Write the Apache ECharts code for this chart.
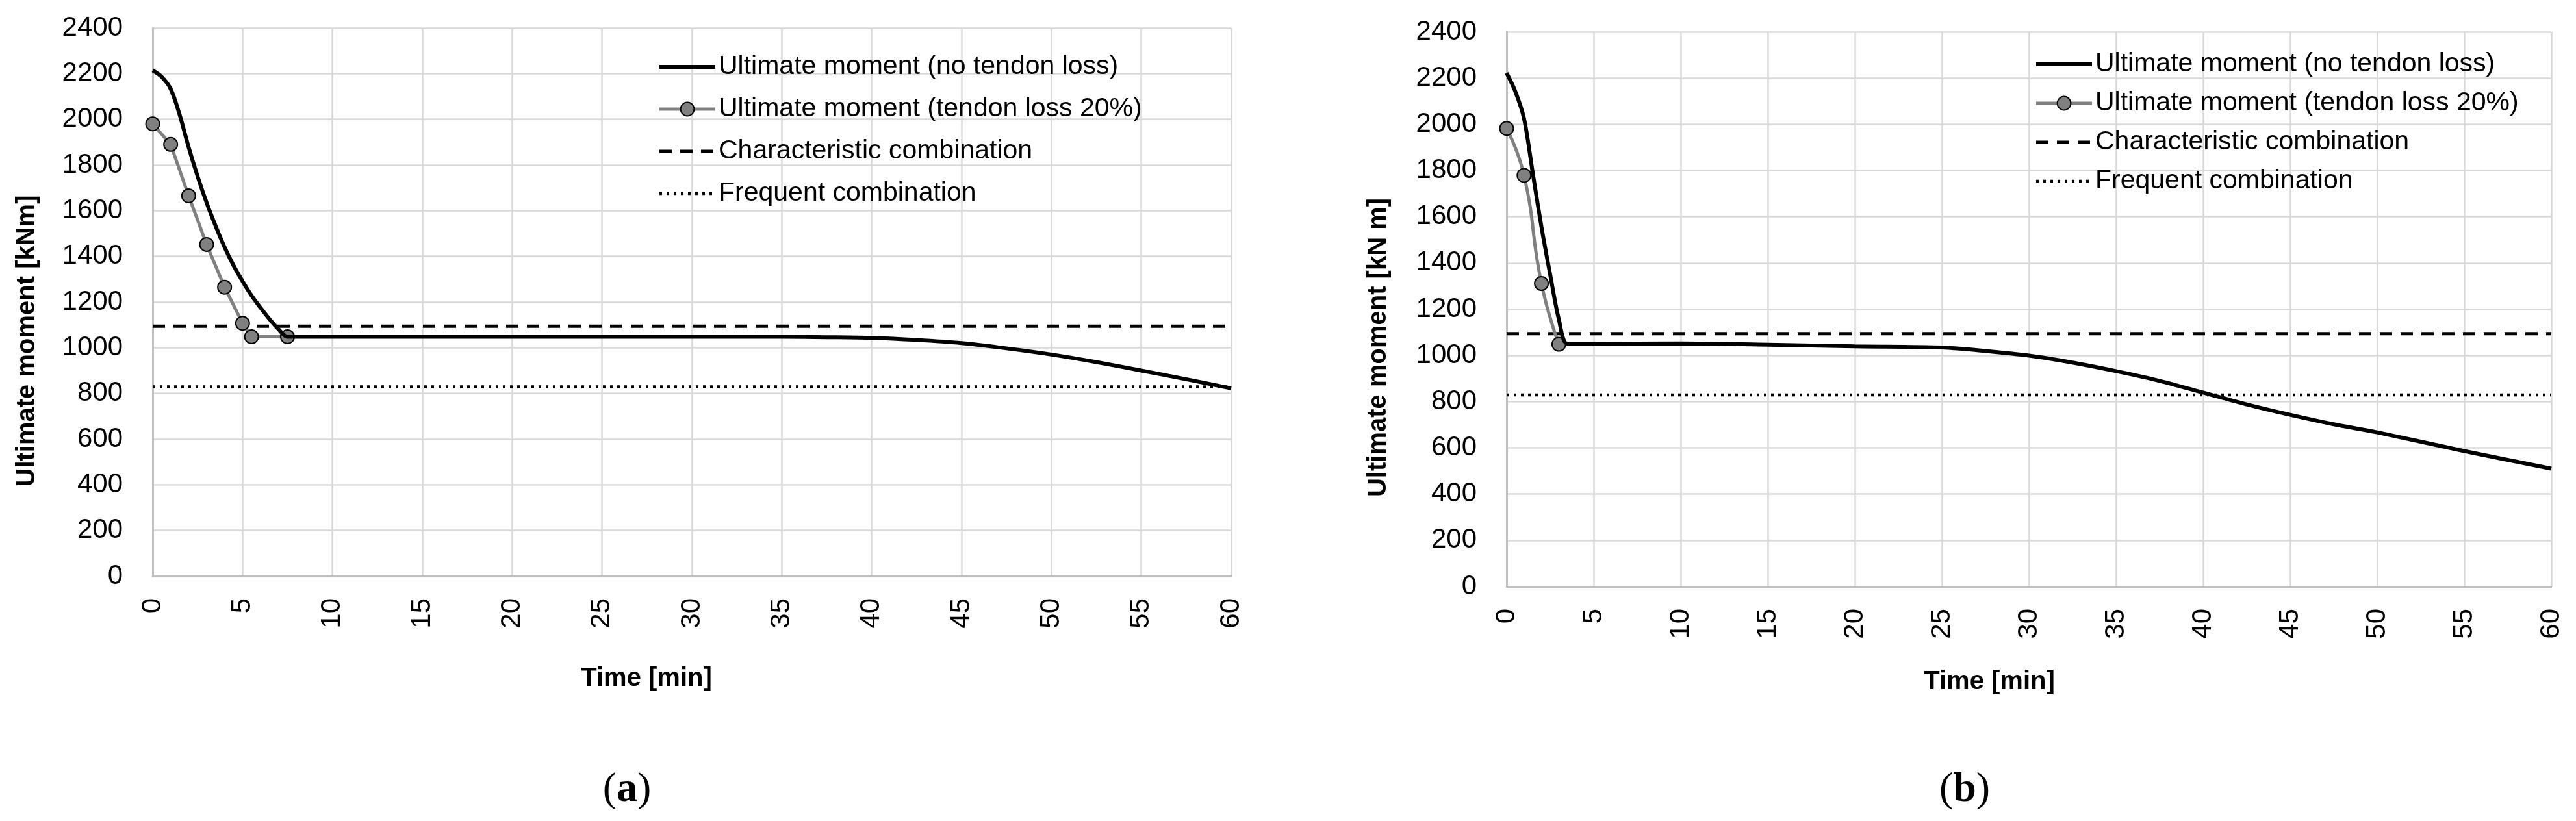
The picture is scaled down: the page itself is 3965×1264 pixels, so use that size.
<!DOCTYPE html>
<html><head><meta charset="utf-8">
<script src="https://cdn.jsdelivr.net/npm/echarts@6/dist/echarts.min.js"></script>
<style>html,body{margin:0;padding:0;background:#fff}#c{width:3965px;height:1264px}</style>
</head><body><div id="c"></div>
<script>
// ---- data ----
const timeNoLossA = [0,0.5,1,1.5,2,2.5,3,3.5,4,4.5,5,5.5,6,6.5,7,7.5,10,15,20,25,30,35,37.5,40,42.5,45,47.5,50,52.5,55,57.5,60];
const noLossA     = [2214,2186,2133,2020,1878,1750,1635,1533,1440,1360,1291,1228,1175,1125,1081,1048,1048,1048,1048,1048,1048,1048,1046,1043,1034,1020,997,970,937,900,862,822];
const timeLossA   = [0,1,2,3,4,5,5.5,7.5];
const lossA       = [1980,1890,1665,1452,1265,1107,1048,1048];

const timeNoLossB = [0,0.5,1,1.5,2,2.5,3,3.5,5,10,15,20,25,27.5,30,32.5,35,37.5,40,42.5,45,47.5,50,55,60];
const noLossB     = [2222,2142,2025,1790,1556,1350,1156,1050,1050,1052,1046,1039,1034,1019,999,969,932,890,839,788,743,702,667,586,510];
const timeLossB   = [0,1,2,3];
const lossB       = [1982,1779,1311,1048];

const refTime = [0,60];
const characteristicLevel = 1094;
const frequentLevel = 829;

const names = ['Ultimate moment (no tendon loss)','Ultimate moment (tendon loss 20%)','Characteristic combination','Frequent combination'];
const yTitles = ['Ultimate moment [kNm]','Ultimate moment [kN m]'];
const xTitle = 'Time [min]';
const panelLabels = ['a','b'];

const pairs = (xs, ys) => xs.map((x,i)=>[x, ys[i]]);
const flat = (v) => refTime.map(t=>[t, v]);

const FONT = '"Liberation Sans", Arial, sans-serif';
const gridColor = '#d9d9d9';

const styles = {
  noLoss:{color:'#000', width:6},
  loss:{color:'#808080', width:5},
  charac:{color:'#000', width:5, type:[19,13]},
  freq:{color:'#000', width:4.5, type:[4,7]}
};

function axesX(i){
  return {type:'value', gridIndex:i, min:0, max:60, interval:5,
    axisLine:{show:true, lineStyle:{color:'#bfbfbf', width:3}},
    axisTick:{show:false},
    axisLabel:{rotate:90, margin:34, color:'#000', fontSize:42, fontFamily:FONT, formatter:v=>String(v)},
    splitLine:{show:true, lineStyle:{color:gridColor, width:2.5}}};
}
function axesY(i){
  return {type:'value', gridIndex:i, min:0, max:2400, interval:200,
    axisLine:{show:true, lineStyle:{color:'#bfbfbf', width:3}},
    axisTick:{show:false},
    axisLabel:{margin:46, color:'#000', fontSize:42, fontFamily:FONT, formatter:v=>String(v)},
    splitLine:{show:true, lineStyle:{color:gridColor, width:2.5}}};
}
function seriesFor(i, noLoss, loss, smoothLoss){
  return [
    {name:names[2], type:'line', xAxisIndex:i, yAxisIndex:i, data:flat(characteristicLevel), symbol:'none',
      lineStyle:styles.charac, itemStyle:{color:'#000'}, z:2},
    {name:names[3], type:'line', xAxisIndex:i, yAxisIndex:i, data:flat(frequentLevel), symbol:'none',
      lineStyle:styles.freq, itemStyle:{color:'#000'}, z:2},
    {name:names[1], type:'line', xAxisIndex:i, yAxisIndex:i, data:loss, smooth:smoothLoss,
      symbol:'circle', symbolSize:21,
      lineStyle:styles.loss, itemStyle:{color:'#808080', borderColor:'#000', borderWidth:2}, z:3},
    {name:names[0], type:'line', xAxisIndex:i, yAxisIndex:i, data:noLoss, smooth:0.3, symbol:'none',
      lineStyle:styles.noLoss, itemStyle:{color:'#000'}, z:4}
  ];
}
function legendFor(left, top, gap){
  return {orient:'vertical', left:left, top:top, itemWidth:86, itemHeight:26, itemGap:gap,
    selectedMode:false,
    data:[
      {name:names[0], lineStyle:styles.noLoss, itemStyle:{opacity:0}},
      {name:names[1], lineStyle:styles.loss, itemStyle:{color:'#808080', borderColor:'#000', borderWidth:2}},
      {name:names[2], lineStyle:styles.charac, itemStyle:{opacity:0}},
      {name:names[3], lineStyle:styles.freq, itemStyle:{opacity:0}}
    ],
    textStyle:{color:'#000', fontSize:41, fontFamily:FONT, lineHeight:44}};
}
function txt(x, y, text, opt){
  return Object.assign({type:'text', x:x, y:y, silent:true,
    style:Object.assign({text:text, fill:'#000', align:'center', verticalAlign:'middle'}, opt.style)}, opt.el||{});
}

const chart = echarts.init(document.getElementById('c'), null, {renderer:'canvas'});
chart.setOption({
  animation:false,
  backgroundColor:'#fff',
  grid:[{left:235, top:43, width:1660, height:844},
        {left:2319, top:49, width:1608, height:854}],
  xAxis:[axesX(0), axesX(1)],
  yAxis:[axesY(0), axesY(1)],
  legend:[legendFor(1007, 76, 21), legendFor(3126, 72, 16)],
  series:[].concat(
    seriesFor(0, pairs(timeNoLossA, noLossA), pairs(timeLossA, lossA), false),
    seriesFor(1, pairs(timeNoLossB, noLossB), pairs(timeLossB, lossB), true)
  ),
  graphic:[
    txt(42, 525, yTitles[0], {style:{font:'bold 40px '+FONT}, el:{rotation:Math.PI/2}}),
    txt(2122, 535, yTitles[1], {style:{font:'bold 40px '+FONT}, el:{rotation:Math.PI/2}}),
    txt(995, 1045, xTitle, {style:{font:'bold 40px '+FONT}}),
    txt(3062, 1050, xTitle, {style:{font:'bold 40px '+FONT}}),
    txt(965, 1216, '(' + '{b|' + panelLabels[0] + '})', {style:{font:'64px "Liberation Serif", "Times New Roman", serif', rich:{b:{fontWeight:'bold', fontSize:64, fontFamily:'"Liberation Serif", serif'}}}}),
    txt(3024, 1216, '(' + '{b|' + panelLabels[1] + '})', {style:{font:'64px "Liberation Serif", "Times New Roman", serif', rich:{b:{fontWeight:'bold', fontSize:64, fontFamily:'"Liberation Serif", serif'}}}})
  ]
});
</script></body></html>
